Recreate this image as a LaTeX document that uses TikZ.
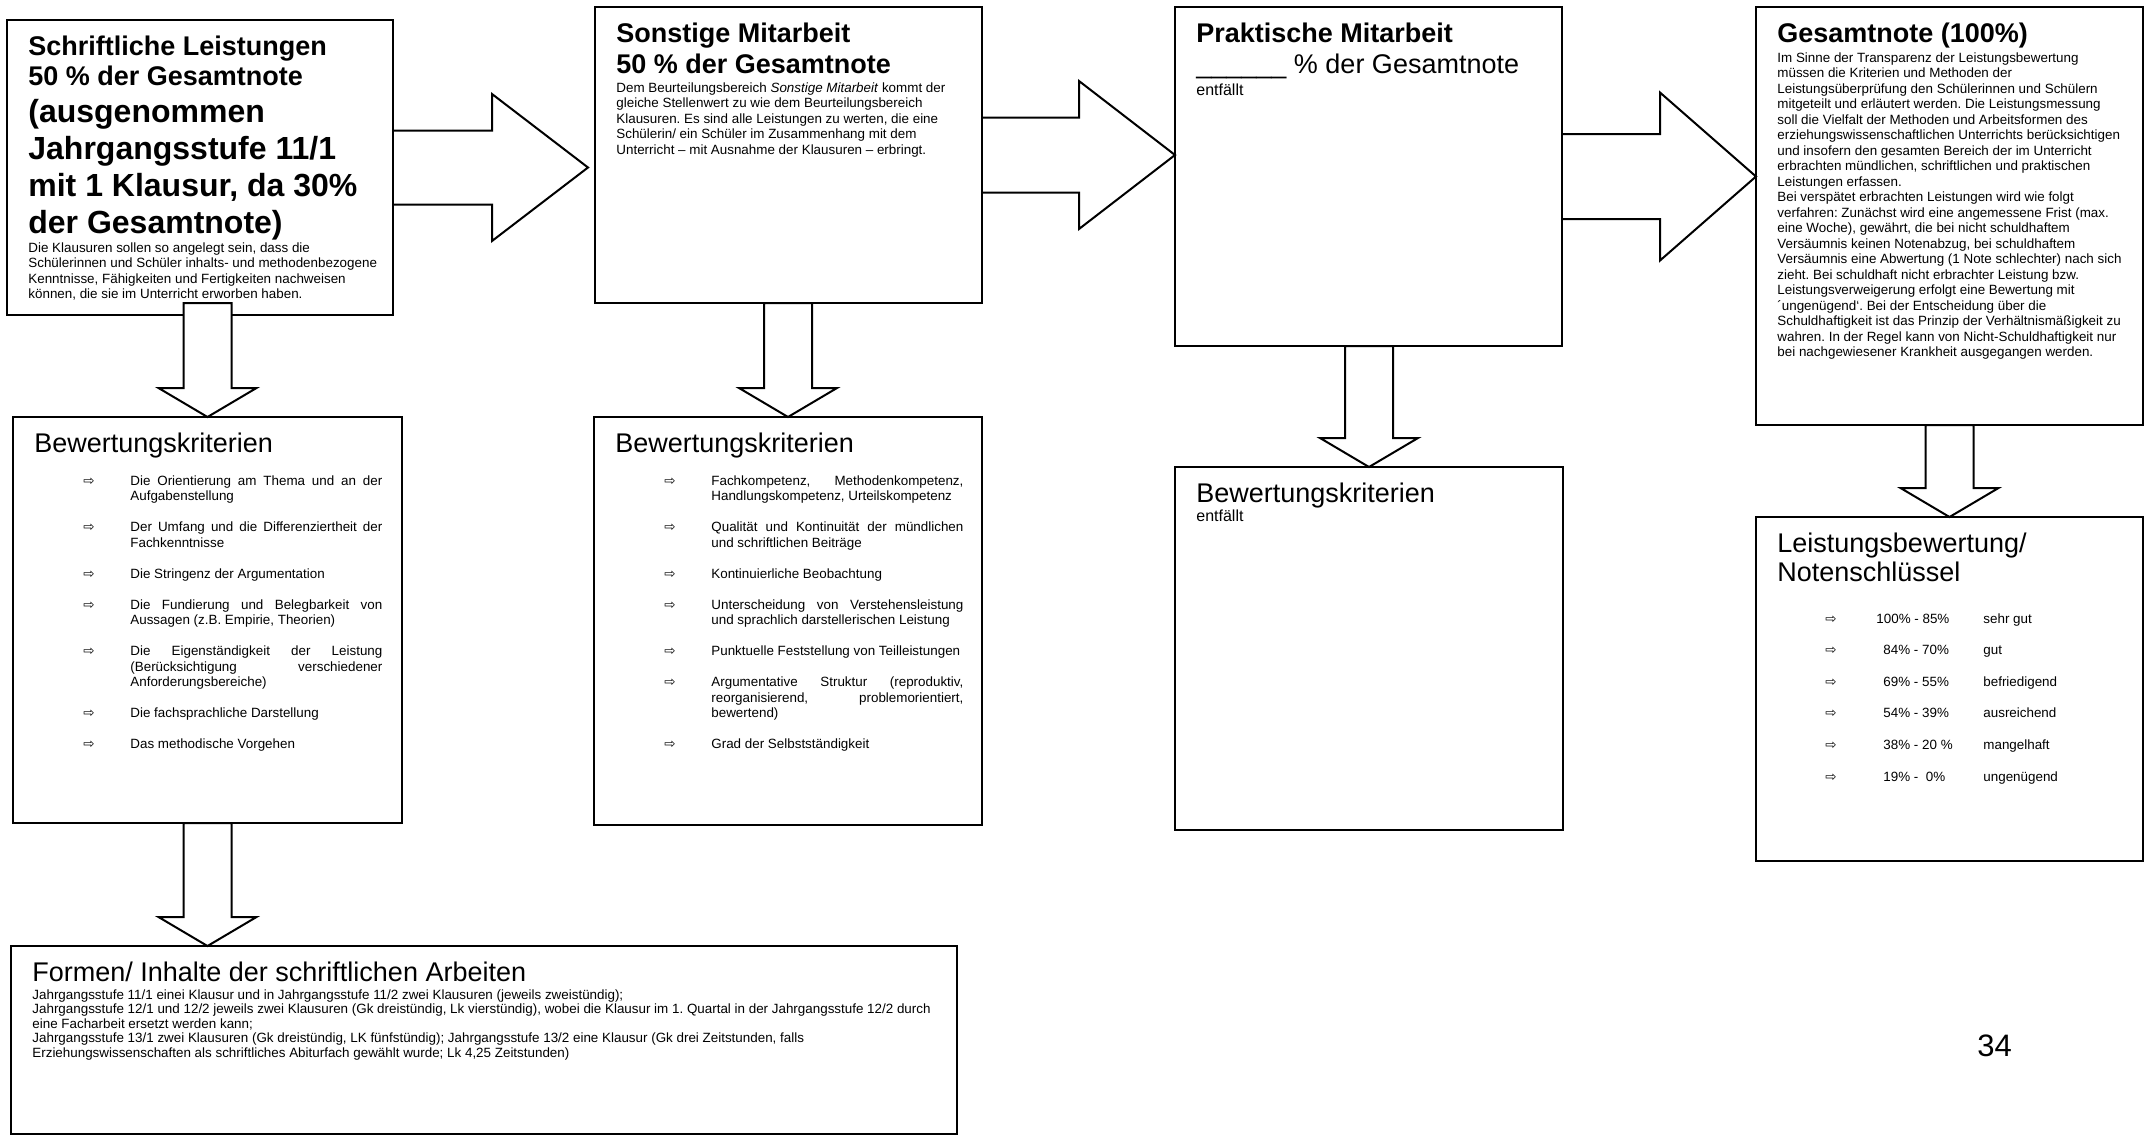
\documentclass[tikz,border=0pt]{standalone}
\usepackage{fontspec}
\setmainfont{Liberation Sans}
\newfontfamily\symfont{DejaVu Sans}
\usetikzlibrary{calc}

\newcommand{\pfeil}{{\symfont ⇨}}
\newcommand{\critem}[1]{\par\vspace{7.75pt}{\leftskip=48pt\rightskip=0pt\parfillskip=0pt plus 1fil\spaceskip=0pt\xspaceskip=0pt\tolerance=10000\hbadness=10000\noindent\llap{\makebox[23.5pt][l]{\pfeil}}#1\par}}
\newcommand{\notrow}[3]{\par\vspace{8.05pt}{\noindent\hspace*{24pt}\makebox[25.5pt][l]{\pfeil}\makebox[53.5pt][l]{\hspace*{#1}#2}#3\par}}
\newcommand{\rarrow}[4]{\draw[pfeilrand] ($(#1.east)+(0,-#3)$) -- ($(#2)+(-96,-#3)$) -- ($(#2)+(-96,-#4)$) -- (#2) -- ($(#2)+(-96,#4)$) -- ($(#2)+(-96,#3)$) -- ($(#1.east)+(0,#3)$);}
\newcommand{\darrow}[2]{\draw[pfeilrand,fill=white] ($(#2|-#1)+(-24,0)$) -- ($(#2)+(-24,-29)$) -- ($(#2)+(-49,-29)$) -- (#2) -- ($(#2)+(49,-29)$) -- ($(#2)+(24,-29)$) -- ($(#2|-#1)+(24,0)$) -- cycle;}

\begin{document}
\begin{tikzpicture}[x=0.5pt,y=-0.5pt,
  kasten/.style={draw,line width=1pt,outer sep=0pt,inner sep=0pt,anchor=north west},
  inhalt/.style={inner sep=0pt,anchor=base west,text width=178pt,
    font=\fontsize{6.7}{7.75}\selectfont,
    execute at begin node={\raggedright\spaceskip=0pt\xspaceskip=0pt\frenchspacing\lineskiplimit=-\maxdimen}},
  liste/.style={inhalt,text width=174pt},
  pfeilrand/.style={draw,line width=1pt,line join=miter}]
  \path[fill=white] (0,0) rectangle (2152,1136);
  \useasboundingbox (0,0) rectangle (2152,1136);

  \node[kasten,minimum width=193pt,minimum height=147.5pt] (sl) at (7,20) {};
  \node[kasten,minimum width=193.5pt,minimum height=148pt] (so) at (595,7) {};
  \node[kasten,minimum width=193.5pt,minimum height=169.5pt] (pm) at (1175,7) {};
  \node[kasten,minimum width=193.5pt,minimum height=209pt] (gn) at (1756,7) {};
  \node[kasten,minimum width=194.5pt,minimum height=203pt] (bk1) at (13,417) {};
  \node[kasten,minimum width=194pt,minimum height=204pt] (bk2) at (594,417) {};
  \node[kasten,minimum width=194pt,minimum height=181.5pt] (bk3) at (1175,467) {};
  \node[kasten,minimum width=193.5pt,minimum height=172pt] (nk) at (1756,517) {};
  \node[kasten,minimum width=473pt,minimum height=94pt] (fi) at (11,946) {};

  \coordinate (t1) at ($(sl.east -| so.west)+(-7,0)$);
  \rarrow{sl}{t1}{37}{73.5}
  \rarrow{so}{so.east -| pm.west}{37.5}{74}
  \rarrow{pm}{pm.east -| gn.west}{42.5}{84}

  \coordinate (s1) at ($(sl.south)+(0,-12)$);
  \coordinate (t5) at (bk1.south |- fi.north);
  \darrow{s1}{bk1.north}
  \darrow{so.south}{bk2.north}
  \darrow{pm.south}{bk3.north}
  \darrow{gn.south}{nk.north}
  \darrow{bk1.south}{t5}

  \node[inhalt] (sl-t) at ($(sl.north west)+(21,35)$) {%
    {\fontsize{13.5}{15}\bfseries Schriftliche Leistungen\\50 \% der Gesamtnote\par}
    {\fontsize{16}{18.5}\bfseries (ausgenommen\\Jahrgangsstufe 11/1\\mit 1 Klausur, da 30\%\\der Gesamtnote)\par}
    \vspace{1.75pt}
    Die Klausuren sollen so angelegt sein, dass die\\Schülerinnen und Schüler inhalts- und methodenbezogene\\Kenntnisse, Fähigkeiten und Fertigkeiten nachweisen\\können, die sie im Unterricht erworben haben.\par};

  \node[inhalt] (so-t) at ($(so.north west)+(21,35)$) {%
    {\fontsize{13.5}{15.5}\bfseries Sonstige Mitarbeit\\50 \% der Gesamtnote\par}
    \vspace{1.75pt}
    Dem Beurteilungsbereich \textit{Sonstige Mitarbeit} kommt der\\gleiche Stellenwert zu wie dem Beurteilungsbereich\\Klausuren. Es sind alle Leistungen zu werten, die eine\\Schülerin/ ein Schüler im Zusammenhang mit dem\\Unterricht – mit Ausnahme der Klausuren – erbringt.\par};

  \node[inhalt] (pm-t) at ($(pm.north west)+(21,35)$) {%
    {\fontsize{13.5}{15.5}\bfseries Praktische Mitarbeit\par}
    {\fontsize{13.5}{15.5}\selectfont\_\_\_\_\_\_ \% der Gesamtnote\par}
    \vspace{1.5pt}
    {\fontsize{8}{9.5}\selectfont entfällt\par}};

  \node[inhalt] (gn-t) at ($(gn.north west)+(21,35)$) {%
    {\fontsize{13.5}{15.5}\bfseries Gesamtnote (100\%)\par}
    \vspace{2.25pt}
    Im Sinne der Transparenz der Leistungsbewertung\\müssen die Kriterien und Methoden der\\Leistungsüberprüfung den Schülerinnen und Schülern\\mitgeteilt und erläutert werden. Die Leistungsmessung\\soll die Vielfalt der Methoden und Arbeitsformen des\\erziehungswissenschaftlichen Unterrichts berücksichtigen\\und insofern den gesamten Bereich der im Unterricht\\erbrachten mündlichen, schriftlichen und praktischen\\Leistungen erfassen.\\Bei verspätet erbrachten Leistungen wird wie folgt\\verfahren: Zunächst wird eine angemessene Frist (max.\\eine Woche), gewährt, die bei nicht schuldhaftem\\Versäumnis keinen Notenabzug, bei schuldhaftem\\Versäumnis eine Abwertung (1 Note schlechter) nach sich\\zieht. Bei schuldhaft nicht erbrachter Leistung bzw.\\Leistungsverweigerung erfolgt eine Bewertung mit\\´ungenügend\char"60. Bei der Entscheidung über die\\Schuldhaftigkeit ist das Prinzip der Verhältnismäßigkeit zu\\wahren. In der Regel kann von Nicht-Schuldhaftigkeit nur\\bei nachgewiesener Krankheit ausgegangen werden.\par};

  \node[liste] (bk1-t) at ($(bk1.north west)+(21,35)$) {%
    {\fontsize{13.5}{15.5}\selectfont Bewertungskriterien\par}
    \vspace{1pt}
    \critem{Die Orientierung am Thema und an der\linebreak Aufgabenstellung}
    \critem{Der Umfang und die Differenziertheit der\linebreak Fachkenntnisse}
    \critem{Die Stringenz der Argumentation}
    \critem{Die Fundierung und Belegbarkeit von\linebreak Aussagen (z.B. Empirie, Theorien)}
    \critem{Die Eigenständigkeit der Leistung\linebreak (Berücksichtigung verschiedener\linebreak Anforderungsbereiche)}
    \critem{Die fachsprachliche Darstellung}
    \critem{Das methodische Vorgehen}};

  \node[liste] (bk2-t) at ($(bk2.north west)+(21,35)$) {%
    {\fontsize{13.5}{15.5}\selectfont Bewertungskriterien\par}
    \vspace{1pt}
    \critem{Fachkompetenz, Methodenkompetenz,\linebreak Handlungskompetenz, Urteilskompetenz}
    \critem{Qualität und Kontinuität der mündlichen\linebreak und schriftlichen Beiträge}
    \critem{Kontinuierliche Beobachtung}
    \critem{Unterscheidung von Verstehensleistung\linebreak und sprachlich darstellerischen Leistung}
    \critem{Punktuelle Feststellung von Teilleistungen}
    \critem{Argumentative Struktur (reproduktiv,\linebreak reorganisierend, problemorientiert,\linebreak bewertend)}
    \critem{Grad der Selbstständigkeit}};

  \node[inhalt] (bk3-t) at ($(bk3.north west)+(21,35)$) {%
    {\fontsize{13.5}{15.5}\selectfont Bewertungskriterien\par}
    {\fontsize{8}{9.5}\selectfont entfällt\par}};

  \node[inhalt] (nk-t) at ($(nk.north west)+(21,35)$) {%
    {\fontsize{13.5}{14.5}\selectfont Leistungsbewertung/\\Notenschlüssel\par}
    \vspace{5.2pt}
    \notrow{0pt}{100\% - 85\%}{sehr gut}
    \notrow{3.5pt}{84\% - 70\%}{gut}
    \notrow{3.5pt}{69\% - 55\%}{befriedigend}
    \notrow{3.5pt}{54\% - 39\%}{ausreichend}
    \notrow{3.5pt}{38\% - 20 \%}{mangelhaft}
    \notrow{3.5pt}{19\% -\ \ 0\%}{ungenügend}};

  \node[inhalt,text width=470pt,font=\fontsize{6.7}{7.25}\selectfont] (fi-t) at ($(fi.north west)+(21,35)$) {%
    {\fontsize{13.5}{15.5}\selectfont Formen/ Inhalte der schriftlichen Arbeiten\par}
    \vspace{1.75pt}
    Jahrgangsstufe 11/1 einei Klausur und in Jahrgangsstufe 11/2 zwei Klausuren (jeweils zweistündig);\\Jahrgangsstufe 12/1 und 12/2 jeweils zwei Klausuren (Gk dreistündig, Lk vierstündig), wobei die Klausur im 1. Quartal in der Jahrgangsstufe 12/2 durch\\eine Facharbeit ersetzt werden kann;\\Jahrgangsstufe 13/1 zwei Klausuren (Gk dreistündig, LK fünfstündig); Jahrgangsstufe 13/2 eine Klausur (Gk drei Zeitstunden, falls\\Erziehungswissenschaften als schriftliches Abiturfach gewählt wurde; Lk 4,25 Zeitstunden)\par};

  \node[inner sep=0pt,anchor=base west,font=\fontsize{15.5}{15.5}\selectfont] (seite) at (1977,1056) {34};
\end{tikzpicture}
\end{document}
